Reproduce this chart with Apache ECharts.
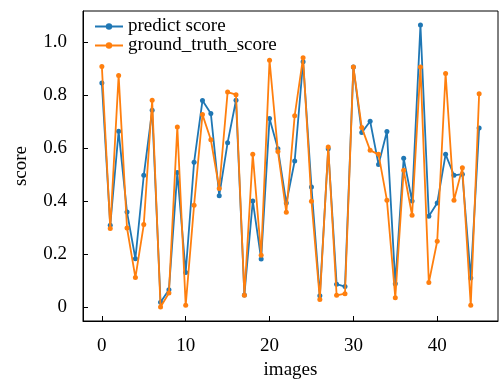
<!DOCTYPE html>
<html>
<head>
<meta charset="utf-8">
<script src="https://cdn.jsdelivr.net/npm/echarts@6/dist/echarts.min.js"></script>
<style>
  html, body { margin: 0; padding: 0; background: #fff; }
  #chart { width: 499px; height: 387px; }
</style>
</head>
<body>
<div id="chart"></div>
<script>
const imageIdx = Array.from({ length: 46 }, (_, i) => i)

const predictScore = [
  0.845, 0.308, 0.663, 0.358, 0.182, 0.497, 0.742, 0.018, 0.065, 0.507,
  0.130, 0.546, 0.779, 0.730, 0.420, 0.620, 0.780, 0.045, 0.400, 0.181,
  0.711, 0.597, 0.392, 0.551, 0.925, 0.453, 0.042, 0.597, 0.086, 0.077,
  0.906, 0.658, 0.701, 0.538, 0.662, 0.088, 0.561, 0.400, 1.064, 0.342,
  0.392, 0.576, 0.497, 0.501, 0.109, 0.675
]

const groundTruth = [
  0.908, 0.296, 0.874, 0.298, 0.111, 0.311, 0.780, 0.000, 0.053, 0.679,
  0.006, 0.384, 0.726, 0.631, 0.447, 0.811, 0.801, 0.044, 0.576, 0.195,
  0.931, 0.587, 0.357, 0.722, 0.941, 0.399, 0.028, 0.604, 0.044, 0.050,
  0.906, 0.677, 0.591, 0.576, 0.403, 0.035, 0.516, 0.346, 0.906, 0.092,
  0.248, 0.881, 0.403, 0.525, 0.006, 0.805
]

const xTicks = [0, 10, 20, 30, 40]
const yTicks = [0, 0.2, 0.4, 0.6, 0.8, 1.0]

const serif = 'Liberation Serif'

const chart = echarts.init(document.getElementById('chart'))

const makeSeries = (name, values, color, z) => ({
  name,
  type: 'line',
  data: values.map((v, i) => [imageIdx[i], v]),
  symbol: 'circle',
  symbolSize: 5,
  z,
  lineStyle: { color, width: 1.8 },
  itemStyle: { color },
  emphasis: { disabled: true }
})

chart.setOption({
  animation: false,
  legend: {
    orient: 'vertical',
    left: 94,
    top: 17,
    padding: 0,
    itemWidth: 28,
    itemHeight: 8,
    itemGap: 0,
    textStyle: { fontFamily: serif, fontSize: 19, lineHeight: 19, color: '#000' },
    data: ['predict score', 'ground_truth_score']
  },
  grid: {
    left: 83,
    right: 1,
    top: 11,
    bottom: 66,
    show: true,
    borderColor: '#000',
    borderWidth: 1,
    backgroundColor: 'transparent'
  },
  xAxis: {
    type: 'value',
    min: -2.25,
    max: 47.25,
    name: 'images',
    nameLocation: 'middle',
    nameGap: 40,
    nameTextStyle: { fontFamily: serif, fontSize: 19, color: '#000' },
    axisLine: { show: true, onZero: false, lineStyle: { color: '#000', width: 1 } },
    axisTick: { show: true, inside: true, length: 5, customValues: xTicks, lineStyle: { color: '#000' } },
    axisLabel: { fontFamily: serif, fontSize: 19, color: '#000', margin: 16, customValues: xTicks },
    splitLine: { show: false }
  },
  yAxis: {
    type: 'value',
    min: -0.053,
    max: 1.117,
    name: 'score',
    nameLocation: 'middle',
    nameGap: 52,
    nameTextStyle: { fontFamily: serif, fontSize: 19, color: '#000' },
    axisLine: { show: true, onZero: false, lineStyle: { color: '#000', width: 1 } },
    axisTick: { show: true, inside: true, length: 5, customValues: yTicks, lineStyle: { color: '#000' } },
    axisLabel: {
      fontFamily: serif, fontSize: 19, color: '#000', margin: 16,
      customValues: yTicks,
      formatter: v => (v === 0 ? '0' : v.toFixed(1))
    },
    splitLine: { show: false }
  },
  series: [
    makeSeries('predict score', predictScore, '#1f77b4', 2),
    makeSeries('ground_truth_score', groundTruth, '#ff7f0e', 3)
  ]
})
</script>
</body>
</html>
